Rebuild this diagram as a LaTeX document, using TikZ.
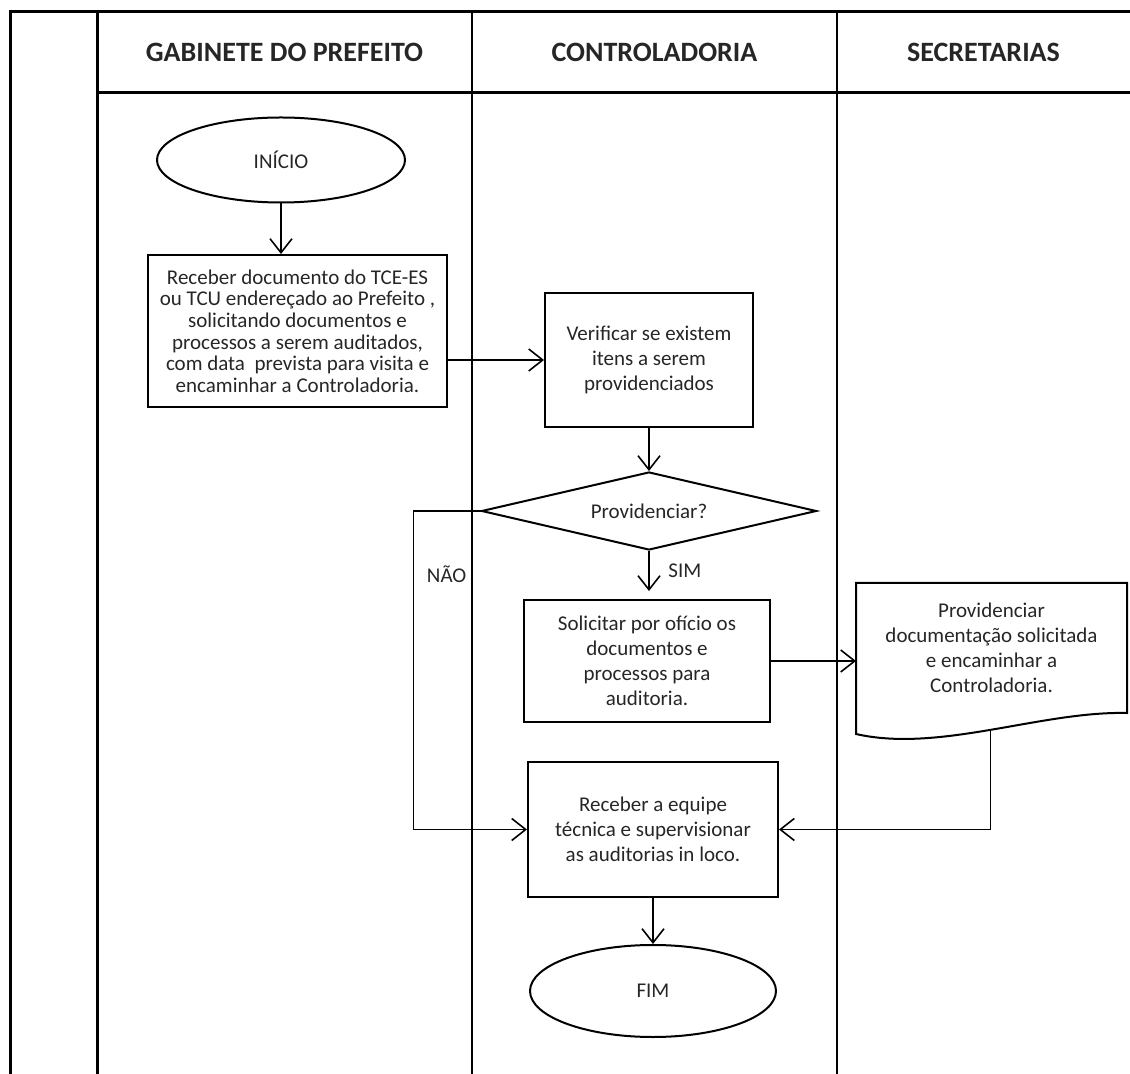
\documentclass[tikz,border=0pt]{standalone}
\usepackage{fontspec}
\setmainfont{Carlito}
\usetikzlibrary{shapes.geometric,arrows.meta}

\begin{document}
\begin{tikzpicture}[x=0.5pt, y=-0.5pt,
    borda/.style={line width=1.5pt},
    raia/.style={line width=1pt},
    cabec/.style={font=\fontsize{14}{16}\selectfont\bfseries, 
        text=black!85},
    caixa/.style={draw, line width=1pt, align=center, text=black!85,
        font=\fontsize{10.5}{12.5}\selectfont, inner sep=2pt},
    terminal/.style={caixa, ellipse},
    decisao/.style={caixa, diamond, aspect=4.3},
    seta/.style={line width=0.8pt, 
        -{Straight Barb[length=7pt, width=11pt]}},
    rotulo/.style={font=\fontsize{10.5}{12}\selectfont, text=black!85}
    ]
    \useasboundingbox (0,0) rectangle (1130,1074);

    % raias
    \draw[borda] (10,1074) -- (10,12) -- (1130,12);
    \draw[borda] (97,1074) -- (97,12);
    \draw[borda] (97,93) -- (1130,93);
    \draw[raia] (472,12) -- (472,1074);
    \draw[raia] (837,12) -- (837,1074);

    \node[cabec] (gabinete) at (284.5,52) {GABINETE DO PREFEITO};
    \node[cabec] (controladoria) at (654.5,52) {CONTROLADORIA};
    \node[cabec] (secretarias) at (983.5,52) {SECRETARIAS};

    % fluxo
    \node[terminal, minimum width=124pt, minimum height=42.5pt] 
        (inicio) at (281,160) {INÍCIO};
    \node[caixa, minimum width=149.5pt, minimum height=76pt,
        font=\fontsize{10.5}{10.8}\selectfont] (receber) at (297.5,331) 
        {Receber documento do TCE-ES\\ ou TCU endereçado ao Prefeito ,\\
         solicitando documentos e\\ processos a serem auditados,\\
         com data\ \ prevista para visita e\\ encaminhar a Controladoria.};
    \node[caixa, minimum width=104pt, minimum height=67pt] 
        (verificar) at (649,360) 
        {Verificar se existem\\ itens a serem\\ providenciados};
    \node[decisao, minimum width=167.5pt, minimum height=39pt] 
        (providenciar) at (649,511) {Providenciar?};
    \node[caixa, minimum width=123pt, minimum height=61pt] 
        (solicitar) at (647,661) 
        {Solicitar por ofício os\\ documentos e\\ processos para\\ auditoria.};
    \node[caixa, draw=none, minimum width=134.5pt, minimum height=64pt] 
        (documentacao) at (991.5,648) 
        {Providenciar\\ documentação solicitada\\ e encaminhar a\\ Controladoria.};
    \draw[line width=1pt] (documentacao.north west) -- (documentacao.north east) 
        -- (documentacao.south east) 
        .. controls +(-86,-2) and +(83,19) .. ([yshift=-10.5pt]documentacao.south west) 
        coordinate[pos=0.5] (basedoc) -- cycle;
    \node[caixa, minimum width=125pt, minimum height=67.5pt] 
        (equipe) at (653,829.5) 
        {Receber a equipe\\ técnica e supervisionar\\ as auditorias in loco.};
    \node[terminal, minimum width=123pt, minimum height=46pt] 
        (fim) at (653,991) {FIM};

    % setas
    \draw[seta] (inicio.south) -- (inicio.south |- receber.north);
    \draw[seta] (receber.east |- verificar.west) -- (verificar.west);
    \draw[seta] (verificar.south) -- (providenciar.north);
    \draw[seta] (providenciar.south) -- ([yshift=4pt]providenciar.south |- solicitar.north) 
        node[rotulo, midway, right=6pt] {SIM};
    \draw[seta] (providenciar.west) -- ++(-67,0) 
        |- node[rotulo, pos=0.1, right=3pt] {NÃO} (equipe.west);
    \draw[seta] (solicitar.east) -- (solicitar.east -| documentacao.west);
    \draw[seta] (basedoc) |- (equipe.east);
    \draw[seta] (equipe.south) -- (fim.north);
\end{tikzpicture}
\end{document}
